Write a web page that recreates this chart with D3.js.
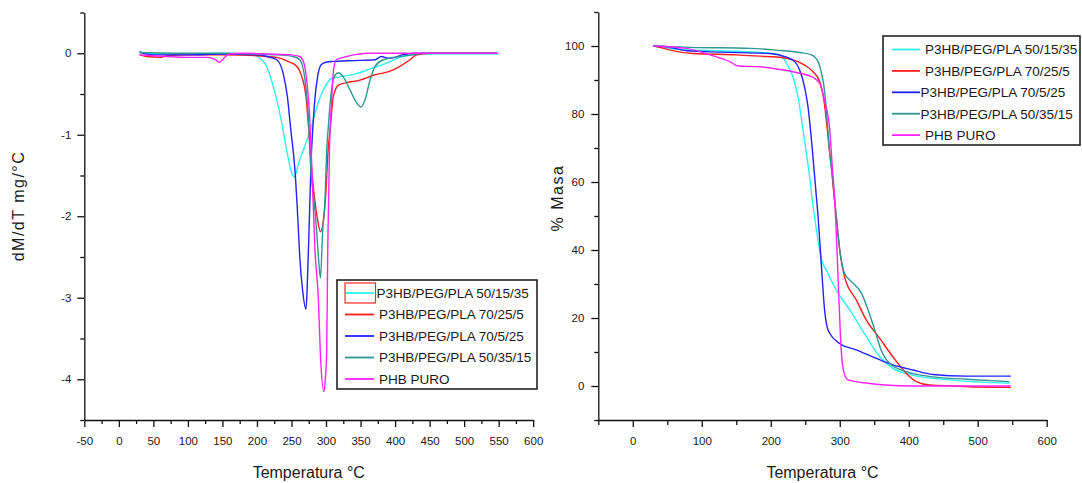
<!DOCTYPE html>
<html>
<head>
<meta charset="utf-8">
<script src="https://cdn.jsdelivr.net/npm/d3@7"></script>
<style>
  body { margin: 0; background: #fff; }
  svg { display: block; }
  text { font-family: "Liberation Sans", Arial, sans-serif; fill: #1a1a1a; }
</style>
</head>
<body>
<svg id="chart" width="1082" height="483"></svg>
<script>
// ---- Series (legend order) ----
const seriesNames = [
  "P3HB/PEG/PLA 50/15/35",
  "P3HB/PEG/PLA 70/25/5",
  "P3HB/PEG/PLA 70/5/25",
  "P3HB/PEG/PLA 50/35/15",
  "PHB PURO"
];
const seriesColors = ["#30f2f2", "#ff1a1a", "#2222ff", "#2f9696", "#ff22ff"];

// ---- Derivative curves (T °C, dM/dT mg/°C) ----
const dtg5015 = [[30,0.01],[60,-0.01],[100,-0.01],[150,0],[180,-0.01],[195,-0.02],[207,-0.08],[214,-0.16],[221,-0.33],[228.6,-0.57],[236,-0.86],[243,-1.19],[249,-1.43],[254,-1.52],[260,-1.36],[267,-1.19],[277,-0.95],[289,-0.6],[298.6,-0.41],[308,-0.31],[320,-0.29],[344,-0.25],[368,-0.18],[388,-0.12],[407,-0.05],[426,-0.02],[450,-0.01],[548,-0.01]];
const dtg70255 = [[30,-0.02],[40,-0.04],[60,-0.05],[70,-0.03],[100,-0.02],[150,-0.02],[200,-0.03],[214,-0.04],[233,-0.06],[245,-0.1],[257.6,-0.16],[265,-0.29],[271,-0.53],[275,-0.94],[279,-1.4],[283,-1.75],[287,-2.0],[292,-2.19],[297,-2.0],[300,-1.68],[303,-1.19],[306,-0.94],[310.6,-0.53],[318,-0.39],[330,-0.36],[349,-0.33],[368.5,-0.27],[392.7,-0.22],[407,-0.16],[421.6,-0.08],[431,-0.02],[450,0],[548,0]];
const dtg70525 = [[30,0.02],[35,0],[50,-0.02],[100,-0.02],[150,-0.01],[200,-0.02],[215,-0.04],[228.6,-0.08],[238,-0.25],[244,-0.53],[249,-0.94],[255,-1.43],[259,-2.0],[262,-2.5],[266,-2.9],[271,-3.14],[273,-2.82],[276,-2.0],[278.5,-1.3],[281,-0.9],[284,-0.55],[288,-0.28],[293,-0.14],[300,-0.11],[311,-0.1],[340,-0.09],[371,-0.08],[380,-0.04],[390,-0.06],[400,-0.05],[410,-0.02],[430,0],[548,0]];
const dtg503515 = [[30,0.01],[100,0],[150,0],[200,-0.01],[230,-0.02],[252.6,-0.04],[262,-0.08],[269.6,-0.33],[274,-0.73],[278,-1.43],[282,-1.75],[286.5,-2.2],[289,-2.5],[292,-2.76],[295,-2.2],[298.5,-1.8],[301,-1.19],[303,-0.94],[308,-0.45],[313,-0.27],[318,-0.24],[325,-0.29],[334.7,-0.45],[344.5,-0.61],[350.7,-0.66],[356.5,-0.57],[363.7,-0.33],[371,-0.16],[383,-0.08],[407,-0.04],[426,-0.02],[440,0],[548,0]];
const dtgPuro = [[30,-0.02],[50,-0.03],[70,-0.04],[100,-0.05],[130,-0.05],[140,-0.08],[146,-0.11],[152,-0.06],[160,-0.01],[180,0],[220,-0.01],[250,-0.02],[262,-0.04],[268,-0.12],[272,-0.33],[276,-0.73],[279,-1.3],[284,-2.41],[289,-3.03],[292,-3.72],[297,-4.15],[299,-4.0],[301,-3.64],[302.5,-2.41],[305,-1.19],[308,-0.6],[311,-0.2],[315,-0.08],[325,-0.05],[340,-0.02],[360,0],[548,0]];

// ---- Mass-loss curves (T °C, % mass) ----
const tg5015 = [[30,100],[68,99],[126,98.6],[194,98],[213,97.4],[222.8,94.9],[232,91],[239.6,85],[246,76.3],[252,68],[256,62],[260,55],[264,49],[268,43.5],[272,38.5],[283,33.1],[295,28.2],[314.5,22.4],[338.6,14.5],[358,8.6],[377,5.2],[406,3.2],[459,1.8],[546,0.8]];
const tg70255 = [[30,100],[39,99.6],[53.8,98.8],[87.6,97.8],[150,97.4],[194,96.9],[213,96.7],[232,95.9],[249,94.4],[261,92.5],[271,89.5],[277,84.1],[281.6,76.3],[285.5,68.4],[288.4,63.5],[290,59.6],[295,49.8],[300,40],[307,32.1],[324,25.3],[338.6,19.4],[358,14],[377,8.6],[396.6,3.7],[411,1.3],[430,0.3],[470,0],[500,-0.3],[548,-0.4]];
const tg70525 = [[30,100],[49,99.8],[78,98.6],[126,98.2],[198.6,97.8],[222.8,96.7],[234.8,95.4],[242,92.9],[249,88],[254,82.1],[259,72.4],[262.8,63.5],[266,56],[268.6,49.8],[273.5,35.1],[278,22.4],[281,18],[285.5,15.5],[300,12.5],[324,10.6],[353,8.1],[377,6.2],[406,4.7],[435,3.4],[483,2.9],[548,2.9]];
const tg503515 = [[30,100],[82.8,99.6],[169.7,99.3],[208,98.8],[242,98.1],[259,97.4],[268.6,95.4],[273.5,92],[278.4,86.1],[281.6,78.2],[285.5,68.4],[290,60.5],[295,49.8],[300,40],[307,33.1],[317,30.7],[331.5,27.3],[341,22.4],[350.7,16.5],[360,10.6],[372,6.7],[396.6,4.2],[435,2.7],[483.5,2.0],[546,1.3]];
const tgPuro = [[30,100],[78,99.3],[111.7,97.4],[140.7,95.4],[152.7,94.1],[184,93.9],[213,93.1],[242,92],[261,90.8],[271,89],[278,84],[285.5,75.3],[289.4,64],[291,60],[295,45],[298.5,27],[302,11],[306,4],[312,1.8],[341,0.8],[366,0.3],[406,0],[548,0]];

// ---- Axis ticks ----
const dtgXMajor = [-50,0,50,100,150,200,250,300,350,400,450,500,550,600];
const dtgXMinor = [-25,25,75,125,175,225,275,325,375,425,475,525,575];
const dtgYMajor = [0,-1,-2,-3,-4];
const dtgYMinor = [0.5,-0.5,-1.5,-2.5,-3.5,-4.5];
const tgXMajor = [0,100,200,300,400,500,600];
const tgXMinor = [-50,50,150,250,350,450,550];
const tgYMajor = [0,20,40,60,80,100];
const tgYMinor = [-10,10,30,50,70,90,110];

const svg = d3.select("#chart");
const fmt = d => String(d).replace("\u2212", "-");

function panel(opts) {
  const g = svg.append("g");
  const x = d3.scaleLinear().domain(opts.xDomain).range(opts.xRange);
  const y = d3.scaleLinear().domain(opts.yDomain).range(opts.yRange);
  const bottom = opts.yRange[0];
  const left = opts.xRange[0];

  // curves
  const line = d3.line().x(d => x(d[0])).y(d => y(d[1])).curve(d3.curveMonotoneX);
  opts.series.forEach((s, i) => {
    g.append("path").datum(s).attr("d", line)
      .attr("fill", "none").attr("stroke", seriesColors[i])
      .attr("stroke-width", 1.4).attr("stroke-linejoin", "round");
  });

  // minor ticks
  g.append("g").attr("transform", `translate(0,${bottom})`)
    .call(d3.axisBottom(x).tickValues(opts.xMinor).tickSize(opts.xMinorLen).tickFormat(""))
    .call(a => a.select(".domain").remove());
  g.append("g").attr("transform", `translate(${left},0)`)
    .call(d3.axisLeft(y).tickValues(opts.yMinor).tickSize(4).tickFormat(""))
    .call(a => a.select(".domain").remove());

  // major ticks + labels
  const ax = g.append("g").attr("transform", `translate(0,${bottom})`)
    .call(d3.axisBottom(x).tickValues(opts.xMajor).tickSize(7).tickSizeOuter(0).tickPadding(10).tickFormat(fmt));
  const ay = g.append("g").attr("transform", `translate(${left},0)`)
    .call(d3.axisLeft(y).tickValues(opts.yMajor).tickSize(7).tickSizeOuter(0).tickPadding(opts.yPad).tickFormat(fmt));
  [ax, ay].forEach(a => {
    a.selectAll("text").style("font-size", "11.5px").attr("font-family", null).attr("fill", "#1a1a1a");
    a.selectAll("line, path").attr("stroke", "#111").attr("stroke-width", 1.3);
  });
  g.selectAll(".tick line").attr("stroke", "#111").attr("stroke-width", 1.3);

  // axis titles
  g.append("text").attr("x", (opts.xRange[0] + opts.xRange[1]) / 2).attr("y", 478)
    .attr("text-anchor", "middle").style("font-size", "16px").text("Temperatura \u00b0C");
  g.append("text").attr("transform", `translate(${opts.yTitleX},${opts.yTitleY}) rotate(-90)`)
    .attr("text-anchor", "middle").style("font-size", "16px").style("letter-spacing", "1.5px")
    .text(opts.yTitle);

  // legend
  const L = opts.legend;
  const lg = g.append("g");
  lg.append("rect").attr("x", L.x).attr("y", L.y).attr("width", L.w).attr("height", L.h)
    .attr("fill", "#fff").attr("stroke", "#222").attr("stroke-width", 1.6);
  seriesNames.forEach((name, i) => {
    const cy = L.y + L.first + i * L.step;
    lg.append("line").attr("x1", L.lx1).attr("x2", L.lx2).attr("y1", cy).attr("y2", cy)
      .attr("stroke", seriesColors[i]).attr("stroke-width", 1.8);
    lg.append("text").attr("x", L.tx[i]).attr("y", cy).attr("dy", "0.36em")
      .style("font-size", "13.5px").text(name);
  });
  if (L.mark) {
    lg.append("rect").attr("x", L.mark.x).attr("y", L.mark.y).attr("width", L.mark.w).attr("height", L.mark.h)
      .attr("fill", "none").attr("stroke", "#ff2a2a").attr("stroke-width", 1.2);
  }
}

// Derivative panel
panel({
  xDomain: [-50, 600], xRange: [84.3, 533.2],
  yDomain: [-4.5, 0.5], yRange: [420, 12.5],
  series: [dtg5015, dtg70255, dtg70525, dtg503515, dtgPuro],
  xMajor: dtgXMajor, xMinor: dtgXMinor, xMinorLen: 4,
  yMajor: dtgYMajor, yMinor: dtgYMinor, yPad: 6,
  yTitle: "dM/dT mg/\u00b0C", yTitleX: 24, yTitleY: 206,
  legend: { x: 337, y: 280, w: 200, h: 109, first: 13, step: 21.5, lx1: 345, lx2: 374,
            tx: [376.5, 379, 379, 379, 379], mark: { x: 345, y: 283, w: 30.5, h: 20 } }
});

// Mass-loss panel
panel({
  xDomain: [-50, 600], xRange: [598.3, 1046.7],
  yDomain: [-10, 110], yRange: [420, 12],
  series: [tg5015, tg70255, tg70525, tg503515, tgPuro],
  xMajor: tgXMajor, xMinor: tgXMinor, xMinorLen: 5,
  yMajor: tgYMajor, yMinor: tgYMinor, yPad: 7,
  yTitle: "% Masa", yTitleX: 563, yTitleY: 198,
  legend: { x: 883, y: 36, w: 197, h: 109, first: 13.5, step: 21.4, lx1: 892, lx2: 920,
            tx: [925, 925, 920.5, 920.5, 925] }
});
</script>
</body>
</html>
